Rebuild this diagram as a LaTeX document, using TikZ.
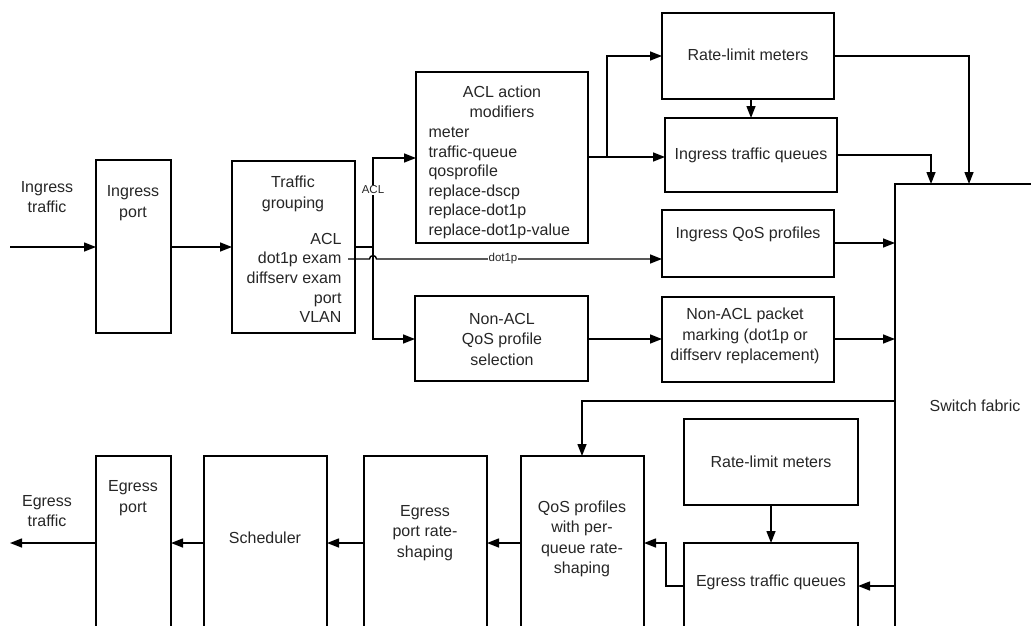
\documentclass[tikz,border=0pt]{standalone}
\usepackage{fontspec}
\setmainfont{Liberation Sans}
\usetikzlibrary{arrows.meta,fit}
\begin{document}
\begin{tikzpicture}[x=1pt,y=-1pt,
  every node/.style={font=\fontsize{16}{20.5}\selectfont, text=black!85},
  box/.style={draw, line width=1.5pt, inner sep=0pt, outer sep=0pt},
  arr/.style={-{Triangle[length=12pt,width=9pt]}, line width=1.4pt},
  ln/.style={line width=1.4pt},
  list/.style={font=\fontsize{16}{19.6}\selectfont},
  small/.style={font=\fontsize{11.5}{13}\selectfont, fill=white, inner sep=1pt}]
\useasboundingbox (0,0) rectangle (1031,626);
\clip (0,0) rectangle (1031,626);
% boxes
\node[box, fit={(96,160)(171,333)}] (inport) {};
\node[box, fit={(232,161)(355,333)}] (tg) {};
\node[box, fit={(416,72)(588,243)}] (aclmod) {};
\node[box, fit={(415,296)(588,381)}] (nonacl) {};
\node[box, fit={(662,13)(834,99)}] (rlm) {};
\node[box, fit={(665,118)(837,192)}] (itq) {};
\node[box, fit={(662,210)(834,277)}] (iqos) {};
\node[box, fit={(662,297)(834,382)}] (npm) {};
\node[box, fit={(895,184)(1045,645)}] (sf) {};
\node[box, fit={(684,419)(858,505)}] (erlm) {};
\node[box, fit={(684,543)(858,645)}] (etq) {};
\node[box, fit={(521,456)(644,645)}] (qosp) {};
\node[box, fit={(364,456)(487,645)}] (eprs) {};
\node[box, fit={(204,456)(327,645)}] (sched) {};
\node[box, fit={(96,456)(171,645)}] (eport) {};
% texts
\node[align=center] (t-in) at (47,197) {Ingress\\traffic};
\node[align=center] (t-inport) at (133,203) {Ingress\\port};
\node[align=center] (t-tg) at (293,194) {Traffic\\grouping};
\node[list, align=right, anchor=east] (t-tglist) at (345,278) {ACL\\dot1p exam\\diffserv exam\\port\\VLAN};
\node[align=center] (t-acl) at (502,102) {ACL action\\modifiers};
\node[list, align=left, anchor=west] (t-acllist) at (425,183) {meter\\traffic-queue\\qosprofile\\replace-dscp\\replace-dot1p\\replace-dot1p-value};
\node (t-rlm) at (748,55) {Rate-limit meters};
\node (t-itq) at (751,155) {Ingress traffic queues};
\node (t-iqos) at (748,234) {Ingress QoS profiles};
\node[align=center] (t-nonacl) at (502,339) {Non-ACL\\QoS profile\\selection};
\node[align=center] (t-npm) at (745,336) {Non-ACL packet\\marking (dot1p or\\diffserv replacement)};
\node (t-sf) at (975,406) {Switch fabric};
\node (t-erlm) at (771,462) {Rate-limit meters};
\node (t-etq) at (771,582) {Egress traffic queues};
\node[align=center] (t-qosp) at (582,539) {QoS profiles\\with per-\\queue rate-\\shaping};
\node[align=center] (t-eprs) at (425,533) {Egress\\port rate-\\shaping};
\node (t-sched) at (265,538) {Scheduler};
\node[align=center] (t-eport) at (133,498) {Egress\\port};
\node[align=center] (t-out) at (47,511) {Egress\\traffic};
% coordinates
\coordinate (inS) at (10,247);
\coordinate (outE) at (10,543);
\coordinate (aclj) at (373,247);
\coordinate (modj) at (607,157);
\coordinate (d1) at (348,259);
\coordinate (h1) at (369.5,259);
\coordinate (h2) at (376.5,259);
\coordinate (jog) at (666,586);
% ingress
\draw[arr] (inS) -- (inS -| inport.west);
\draw[arr] (inport.east |- inS) -- (tg.west |- inS);
\draw[ln] (tg.east |- aclj) -- (aclj);
\draw[arr] (aclj) |- (aclmod.west |- 0,158);
\draw[arr] (aclj) |- (nonacl.west |- 0,339);
\node[small] (l-acl) at (373,190) {ACL};
\draw[arr] (d1) -- (h1) .. controls (369.5,254.5) and (376.5,254.5) .. (h2) -- (iqos.west |- d1);
\node[small] (l-dot) at (503,259) {dot1p};
\draw[ln] (aclmod.east |- modj) -- (modj);
\draw[arr] (modj) -- (itq.west |- modj);
\draw[arr] (modj) |- (rlm.west |- 0,56);
\draw[arr] (751,99) -- (751,118);
\draw[arr] (itq.east |- 0,155) -| (sf.north -| 931,0);
\draw[arr] (rlm.east |- 0,56) -| (sf.north -| 969,0);
\draw[arr] (iqos.east |- 0,243) -- (sf.west |- 0,243);
\draw[arr] (nonacl.east |- 0,339) -- (npm.west |- 0,339);
\draw[arr] (npm.east |- 0,339) -- (sf.west |- 0,339);
% egress
\draw[arr] (sf.west |- 0,401) -| (qosp.north -| 582,0);
\draw[arr] (erlm.south -| 771,0) -- (etq.north -| 771,0);
\draw[arr] (sf.west |- jog) -- (etq.east |- jog);
\draw[arr] (etq.west |- jog) -- (jog) |- (qosp.east |- 0,543);
\draw[arr] (qosp.west |- 0,543) -- (eprs.east |- 0,543);
\draw[arr] (eprs.west |- 0,543) -- (sched.east |- 0,543);
\draw[arr] (sched.west |- 0,543) -- (eport.east |- 0,543);
\draw[arr] (eport.west |- outE) -- (outE);
\end{tikzpicture}
\end{document}
